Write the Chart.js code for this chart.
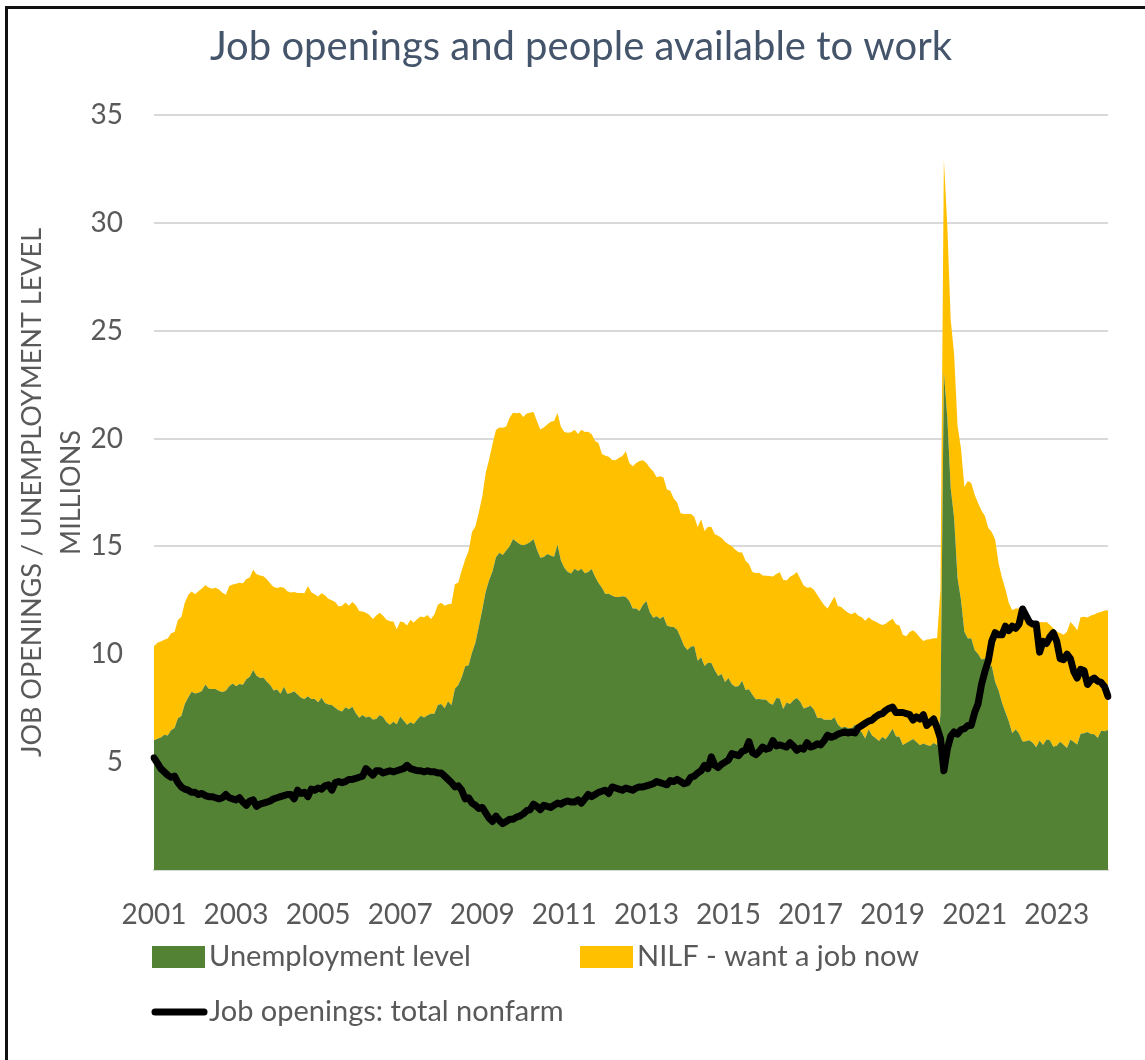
<!DOCTYPE html>
<html>
<head>
<meta charset="utf-8">
<title>Job openings and people available to work</title>
<script src="https://cdn.jsdelivr.net/npm/chart.js@4.4.1/dist/chart.umd.min.js"></script>
<style>
  html, body { margin: 0; padding: 0; background: #fff; }
  #wrap { position: relative; width: 1145px; height: 1060px; overflow: hidden; }
  #frame {
    position: absolute; left: 5px; top: 6px; width: 1300px; height: 1300px;
    border-left: 3px solid #111; border-top: 3px solid #111; pointer-events: none;
  }
</style>
</head>
<body>
<div id="wrap">
  <canvas id="jobsChart" width="1145" height="1060"></canvas>
  <div id="frame"></div>
</div>
<script>
// Monthly figures, millions, Jan 2001 - Apr 2024
const unemployment = [
  6.02, 6.09, 6.14, 6.27, 6.23, 6.48, 6.58, 7.04, 7.14, 7.69, 8.00, 8.26,
  8.18, 8.22, 8.30, 8.60, 8.40, 8.39, 8.39, 8.30, 8.25, 8.31, 8.52, 8.64,
  8.52, 8.62, 8.59, 8.84, 8.96, 9.27, 9.01, 8.90, 8.92, 8.73, 8.58, 8.32,
  8.37, 8.17, 8.49, 8.17, 8.21, 8.29, 8.14, 7.99, 7.93, 8.06, 7.93, 7.93,
  7.78, 7.98, 7.74, 7.67, 7.65, 7.52, 7.41, 7.35, 7.55, 7.45, 7.57, 7.28,
  7.06, 7.18, 7.07, 7.12, 6.98, 7.00, 7.18, 7.09, 6.85, 6.73, 6.87, 6.76,
  7.12, 6.93, 6.73, 6.85, 6.77, 6.98, 7.15, 7.07, 7.17, 7.24, 7.24, 7.65,
  7.69, 7.50, 7.82, 7.64, 8.40, 8.58, 8.94, 9.44, 9.49, 10.07, 10.54, 11.29,
  12.06, 12.90, 13.43, 13.85, 14.50, 14.71, 14.60, 14.81, 15.01, 15.35, 15.22, 15.10,
  15.05, 15.11, 15.20, 15.33, 14.85, 14.47, 14.51, 14.65, 14.58, 14.52, 15.08, 14.35,
  14.01, 13.82, 13.74, 13.96, 13.86, 13.96, 13.76, 13.82, 13.95, 13.59, 13.30, 13.09,
  12.80, 12.81, 12.71, 12.65, 12.66, 12.69, 12.66, 12.47, 12.12, 12.12, 12.01, 12.30,
  12.47, 11.95, 11.69, 11.76, 11.65, 11.75, 11.34, 11.28, 11.27, 11.14, 10.79, 10.40,
  10.20, 10.35, 10.38, 9.70, 9.86, 9.46, 9.61, 9.60, 9.26, 8.99, 9.09, 8.72,
  8.90, 8.61, 8.50, 8.53, 8.77, 8.34, 8.38, 8.12, 7.92, 7.93, 7.90, 7.89,
  7.73, 7.66, 7.97, 7.95, 7.46, 7.77, 7.70, 7.87, 7.97, 7.80, 7.49, 7.54,
  7.61, 7.44, 7.05, 7.06, 6.97, 6.97, 6.95, 7.08, 6.74, 6.59, 6.64, 6.58,
  6.56, 6.75, 6.54, 6.37, 6.10, 6.52, 6.24, 6.12, 5.98, 6.16, 6.06, 6.29,
  6.55, 6.19, 6.18, 5.80, 5.89, 5.98, 6.07, 5.93, 5.78, 5.87, 5.79, 5.75,
  5.89, 5.79, 7.19, 23.09, 20.99, 17.70, 16.31, 13.54, 12.54, 11.05, 10.73, 10.74,
  10.20, 10.01, 9.76, 9.81, 9.36, 9.47, 8.71, 8.32, 7.75, 7.31, 6.88, 6.34,
  6.52, 6.32, 5.96, 5.97, 6.02, 5.90, 5.69, 6.00, 5.79, 6.05, 6.02, 5.71,
  5.76, 5.94, 5.81, 5.65, 6.05, 5.93, 5.82, 6.32, 6.34, 6.40, 6.30, 6.29,
  6.12, 6.46, 6.43, 6.49
];

const nilfWantJob = [
  4.35, 4.45, 4.45, 4.40, 4.50, 4.50, 4.45, 4.55, 4.60, 4.70, 4.75, 4.65,
  4.60, 4.70, 4.75, 4.60, 4.70, 4.65, 4.70, 4.70, 4.60, 4.45, 4.65, 4.60,
  4.75, 4.70, 4.70, 4.65, 4.60, 4.65, 4.70, 4.75, 4.70, 4.75, 4.70, 4.80,
  4.70, 4.95, 4.60, 4.75, 4.65, 4.60, 4.70, 4.85, 4.90, 5.10, 4.95, 4.85,
  4.90, 4.85, 5.00, 4.90, 4.85, 4.90, 4.80, 4.90, 4.85, 4.80, 4.85, 5.00,
  4.95, 4.80, 4.85, 4.70, 4.65, 4.80, 4.75, 4.70, 4.75, 4.80, 4.65, 4.40,
  4.40, 4.55, 4.60, 4.75, 4.70, 4.65, 4.60, 4.65, 4.65, 4.40, 4.60, 4.65,
  4.70, 4.75, 4.50, 4.70, 4.85, 4.75, 4.95, 4.95, 5.30, 5.60, 5.40, 5.30,
  5.25, 5.50, 5.60, 5.90, 5.90, 5.80, 5.90, 5.75, 5.95, 5.85, 5.95, 6.10,
  5.95, 6.05, 6.00, 5.90, 5.95, 5.95, 6.00, 6.00, 6.20, 6.30, 6.10, 6.20,
  6.30, 6.45, 6.55, 6.45, 6.35, 6.45, 6.55, 6.50, 6.25, 6.30, 6.50, 6.20,
  6.40, 6.35, 6.30, 6.35, 6.45, 6.50, 6.75, 6.40, 6.60, 6.75, 6.95, 6.70,
  6.40, 6.70, 6.80, 6.45, 6.60, 6.45, 6.30, 6.30, 5.95, 5.90, 5.75, 6.10,
  6.30, 6.15, 6.00, 6.20, 6.40, 6.25, 6.30, 6.30, 6.30, 6.50, 6.30, 6.50,
  6.20, 6.40, 6.35, 6.20, 5.95, 6.00, 5.80, 5.70, 5.85, 5.85, 5.75, 5.75,
  5.90, 5.95, 5.75, 5.85, 6.00, 5.65, 5.90, 5.80, 5.85, 5.70, 5.70, 5.55,
  5.50, 5.55, 5.70, 5.45, 5.30, 5.15, 5.45, 5.60, 5.50, 5.60, 5.40, 5.35,
  5.30, 5.20, 5.25, 5.35, 5.45, 5.20, 5.35, 5.40, 5.45, 5.20, 5.35, 5.25,
  5.10, 5.20, 5.15, 5.10, 4.95, 5.05, 5.05, 5.05, 5.00, 4.75, 4.90, 4.95,
  4.85, 4.95, 5.80, 9.85, 8.90, 7.80, 7.60, 7.06, 7.00, 6.70, 7.30, 7.20,
  7.20, 7.00, 6.90, 6.60, 6.50, 6.20, 6.60, 5.90, 5.80, 5.70, 5.50, 5.70,
  5.60, 5.80, 5.75, 5.60, 5.50, 5.60, 5.80, 5.50, 5.70, 5.45, 5.35, 5.50,
  5.30, 5.05, 5.10, 5.40, 5.45, 5.40, 5.30, 5.40, 5.40, 5.30, 5.50, 5.55,
  5.80, 5.50, 5.60, 5.55
];

const jobOpenings = [
  5.20, 4.95, 4.70, 4.55, 4.40, 4.30, 4.35, 4.05, 3.85, 3.75, 3.70, 3.60,
  3.60, 3.50, 3.55, 3.45, 3.40, 3.40, 3.35, 3.30, 3.35, 3.50, 3.35, 3.30,
  3.25, 3.35, 3.15, 3.00, 3.20, 3.25, 2.95, 3.05, 3.10, 3.15, 3.20, 3.30,
  3.35, 3.40, 3.45, 3.50, 3.50, 3.30, 3.70, 3.55, 3.60, 3.40, 3.75, 3.70,
  3.80, 3.75, 3.90, 3.95, 3.70, 4.05, 4.10, 4.05, 4.10, 4.20, 4.20, 4.25,
  4.30, 4.35, 4.70, 4.55, 4.40, 4.60, 4.60, 4.50, 4.55, 4.60, 4.55, 4.60,
  4.65, 4.70, 4.85, 4.70, 4.65, 4.60, 4.60, 4.55, 4.60, 4.55, 4.55, 4.50,
  4.50, 4.35, 4.20, 4.05, 3.85, 3.90, 3.70, 3.30, 3.35, 3.10, 3.00, 2.85,
  2.90, 2.65, 2.40, 2.25, 2.50, 2.30, 2.15, 2.25, 2.35, 2.35, 2.45, 2.50,
  2.60, 2.75, 2.80, 3.05, 2.95, 2.80, 3.00, 2.95, 2.90, 3.00, 3.10, 3.05,
  3.15, 3.20, 3.15, 3.15, 3.25, 3.10, 3.30, 3.50, 3.40, 3.50, 3.60, 3.65,
  3.70, 3.55, 3.85, 3.80, 3.75, 3.70, 3.80, 3.75, 3.70, 3.80, 3.85, 3.85,
  3.90, 3.95, 4.00, 4.10, 4.05, 4.00, 3.95, 4.15, 4.10, 4.20, 4.10, 4.00,
  4.05, 4.30, 4.35, 4.50, 4.60, 4.85, 4.70, 5.25, 4.85, 4.75, 4.90, 5.00,
  5.10, 5.40, 5.35, 5.30, 5.50, 5.55, 5.95, 5.45, 5.35, 5.50, 5.70, 5.60,
  5.65, 6.00, 5.75, 5.80, 5.75, 5.70, 5.90, 5.75, 5.55, 5.65, 5.60, 5.90,
  5.70, 5.75, 5.85, 5.80, 6.00, 6.25, 6.15, 6.20, 6.30, 6.35, 6.40, 6.35,
  6.40, 6.35, 6.60, 6.70, 6.80, 6.90, 6.95, 7.10, 7.20, 7.25, 7.40, 7.50,
  7.55, 7.30, 7.30, 7.30, 7.25, 7.20, 6.95, 7.10, 7.00, 7.20, 6.70, 6.85,
  7.00, 6.60, 6.10, 4.60, 5.60, 6.20, 6.40, 6.30, 6.50, 6.55, 6.70, 6.70,
  7.30, 7.70, 8.60, 9.20, 9.70, 10.60, 11.00, 10.90, 10.90, 11.30, 11.10, 11.30,
  11.20, 11.40, 12.10, 11.80, 11.50, 11.40, 11.40, 10.10, 10.60, 10.50, 10.80, 11.00,
  10.60, 9.80, 9.75, 10.00, 9.80, 9.20, 8.90, 9.30, 9.25, 8.60, 8.80, 8.90,
  8.75, 8.70, 8.50, 8.05
];

const yearTicks = ['2001', '2003', '2005', '2007', '2009', '2011',
                   '2013', '2015', '2017', '2019', '2021', '2023'];

// one category per month
const months = [];
for (let y = 2001; y <= 2024; y++) {
  for (let m = 1; m <= 12; m++) {
    if (y === 2024 && m > 4) break;
    months.push(y + '-' + String(m).padStart(2, '0'));
  }
}

const FONT = "Lato, 'Noto Sans', sans-serif";
const GREY = '#595959';
const TITLE = 'Job openings and people available to work';
Chart.defaults.font.family = FONT;
Chart.defaults.color = GREY;

// title sits over the whole frame, not just the plot
const frameTitle = {
  id: 'frameTitle',
  afterDraw(chart) {
    const ctx = chart.ctx;
    ctx.save();
    ctx.font = '40px ' + FONT;
    ctx.fillStyle = '#44546A';
    ctx.textAlign = 'center';
    ctx.textBaseline = 'middle';
    ctx.fillText(TITLE, 581, 47);
    ctx.restore();
  }
};

// legend drawn under the axis, two columns / two rows
const legendSlots = [[152, 957], [580, 957], [152, 1012]];
const bottomLegend = {
  id: 'bottomLegend',
  afterDraw(chart) {
    const ctx = chart.ctx;
    ctx.save();
    ctx.font = '29px ' + FONT;
    ctx.textBaseline = 'middle';
    chart.data.datasets.forEach((ds, i) => {
      const [x, y] = legendSlots[i];
      if (ds.fill) {
        ctx.fillStyle = ds.backgroundColor;
        ctx.fillRect(x, y - 11, 53, 22);
      } else {
        ctx.strokeStyle = ds.borderColor;
        ctx.lineWidth = 7;
        ctx.lineCap = 'round';
        ctx.beginPath();
        ctx.moveTo(x + 3, y);
        ctx.lineTo(x + 52, y);
        ctx.stroke();
      }
      ctx.fillStyle = GREY;
      ctx.fillText(ds.label, x + 57, y);
    });
    ctx.restore();
  }
};

new Chart(document.getElementById('jobsChart'), {
  type: 'line',
  data: {
    labels: months,
    datasets: [
      {
        label: 'Unemployment level',
        data: unemployment,
        backgroundColor: '#548235',
        borderColor: 'transparent',
        borderWidth: 0,
        fill: 'origin',
        pointRadius: 0,
        stack: 'people',
        order: 1
      },
      {
        label: 'NILF - want a job now',
        data: nilfWantJob,
        backgroundColor: '#FFC000',
        borderColor: 'transparent',
        borderWidth: 0,
        fill: '-1',
        pointRadius: 0,
        stack: 'people',
        order: 1
      },
      {
        label: 'Job openings: total nonfarm',
        data: jobOpenings,
        borderColor: '#000000',
        borderWidth: 7,
        borderJoinStyle: 'round',
        borderCapStyle: 'round',
        fill: false,
        pointRadius: 0,
        stack: 'openings',
        order: 0
      }
    ]
  },
  options: {
    responsive: false,
    animation: false,
    layout: { padding: { left: 0, right: 37, top: 115, bottom: 110 } },
    plugins: {
      legend: { display: false },
      tooltip: { enabled: false },
      title: { display: false }
    },
    scales: {
      x: {
        grid: { display: false, drawTicks: false },
        border: { display: true, color: '#D9D9D9', width: 2 },
        ticks: {
          autoSkip: false,
          maxRotation: 0,
          padding: 28,
          font: { size: 28 },
          callback(value) {
            const lab = this.getLabelForValue(value);
            const yr = lab.slice(0, 4);
            return lab.endsWith('-01') && yearTicks.includes(yr) ? yr : null;
          }
        },
        afterFit(scale) { scale.height = 80; }
      },
      y: {
        stacked: true,
        min: 0,
        max: 35,
        grid: { color: '#D9D9D9', lineWidth: 2, drawTicks: false },
        border: { display: false },
        ticks: {
          stepSize: 5,
          padding: 31,
          font: { size: 28 },
          callback: (v) => (v === 0 ? '' : v)
        },
        title: {
          display: true,
          text: ['JOB OPENINGS / UNEMPLOYMENT LEVEL', 'MILLIONS'],
          font: { size: 27, lineHeight: 1.44 },
          padding: { top: 13, bottom: 0 }
        },
        afterFit(scale) { scale.width = 154; }
      }
    }
  },
  plugins: [frameTitle, bottomLegend]
});
</script>
</body>
</html>
